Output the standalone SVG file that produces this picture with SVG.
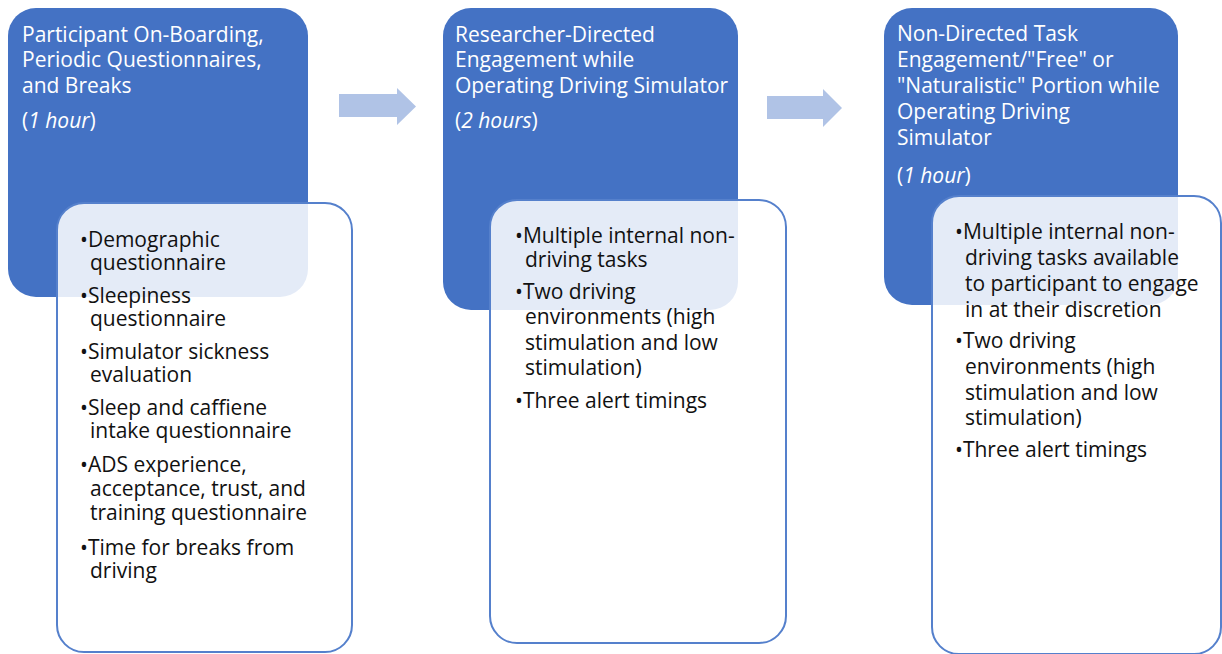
<svg xmlns="http://www.w3.org/2000/svg" width="1222" height="654" viewBox="0 0 1222 654">
<style>
.blue{fill:#4472C4;}
.card{fill:#ffffff;fill-opacity:0.86;stroke:#5580CC;stroke-width:2;}
.h{font-family:"Open Sans","Liberation Sans",sans-serif;font-size:21px;fill:#ffffff;}
.b{font-family:"Open Sans","Liberation Sans",sans-serif;font-size:21px;fill:#111111;}
.arrow{fill:#B0C3E6;}
</style>
<rect width="1222" height="654" fill="#ffffff"/>
<g id="connectors">
<path class="arrow" d="M339,94 H397 V88 L416,106.5 L397,125 V117 H339 Z"/>
<path class="arrow" d="M767,96 H823 V89 L842,108 L823,127 V119 H767 Z"/>
</g>
<g id="phase1">
<rect class="blue" x="8" y="8" width="300" height="289" rx="28"/>
<text class="h" x="22" y="42">Participant On-Boarding,</text>
<text class="h" x="22" y="67">Periodic Questionnaires,</text>
<text class="h" x="22" y="93">and Breaks</text>
<text class="h" x="22" y="128">(<tspan font-style="italic">1 hour</tspan>)</text>
</g>
<g id="phase1-details">
<rect class="card" x="57" y="203" width="295" height="449" rx="27"/>
<text class="b" x="80" y="247">•Demographic</text>
<text class="b" x="90" y="270">questionnaire</text>
<text class="b" x="80" y="303">•Sleepiness</text>
<text class="b" x="90" y="326">questionnaire</text>
<text class="b" x="80" y="359">•Simulator sickness</text>
<text class="b" x="90" y="382">evaluation</text>
<text class="b" x="80" y="415">•Sleep and caffiene</text>
<text class="b" x="90" y="438">intake questionnaire</text>
<text class="b" x="80" y="472">•ADS experience,</text>
<text class="b" x="90" y="496">acceptance, trust, and</text>
<text class="b" x="90" y="520">training questionnaire</text>
<text class="b" x="80" y="555">•Time for breaks from</text>
<text class="b" x="90" y="578">driving</text>
</g>
<g id="phase2">
<rect class="blue" x="443" y="8" width="295" height="302" rx="28"/>
<text class="h" x="455" y="42">Researcher-Directed</text>
<text class="h" x="455" y="67">Engagement while</text>
<text class="h" x="455" y="93">Operating Driving Simulator</text>
<text class="h" x="455" y="128">(<tspan font-style="italic">2 hours</tspan>)</text>
</g>
<g id="phase2-details">
<rect class="card" x="490" y="200" width="296" height="443" rx="27"/>
<text class="b" x="515" y="243">•Multiple internal non-</text>
<text class="b" x="525" y="267">driving tasks</text>
<text class="b" x="515" y="299">•Two driving</text>
<text class="b" x="525" y="324">environments (high</text>
<text class="b" x="525" y="350">stimulation and low</text>
<text class="b" x="525" y="375">stimulation)</text>
<text class="b" x="515" y="408">•Three alert timings</text>
</g>
<g id="phase3">
<rect class="blue" x="884" y="8" width="294" height="297" rx="28"/>
<text class="h" x="897" y="41">Non-Directed Task</text>
<text class="h" x="897" y="67">Engagement/"Free" or</text>
<text class="h" x="897" y="93">"Naturalistic" Portion while</text>
<text class="h" x="897" y="119">Operating Driving</text>
<text class="h" x="897" y="145">Simulator</text>
<text class="h" x="897" y="183">(<tspan font-style="italic">1 hour</tspan>)</text>
</g>
<g id="phase3-details">
<rect class="card" x="932" y="196" width="289" height="458" rx="27"/>
<text class="b" x="955" y="239">•Multiple internal non-</text>
<text class="b" x="965" y="265">driving tasks available</text>
<text class="b" x="965" y="291">to participant to engage</text>
<text class="b" x="965" y="317">in at their discretion</text>
<text class="b" x="955" y="348">•Two driving</text>
<text class="b" x="965" y="374">environments (high</text>
<text class="b" x="965" y="400">stimulation and low</text>
<text class="b" x="965" y="425">stimulation)</text>
<text class="b" x="955" y="457">•Three alert timings</text>
</g>
</svg>
